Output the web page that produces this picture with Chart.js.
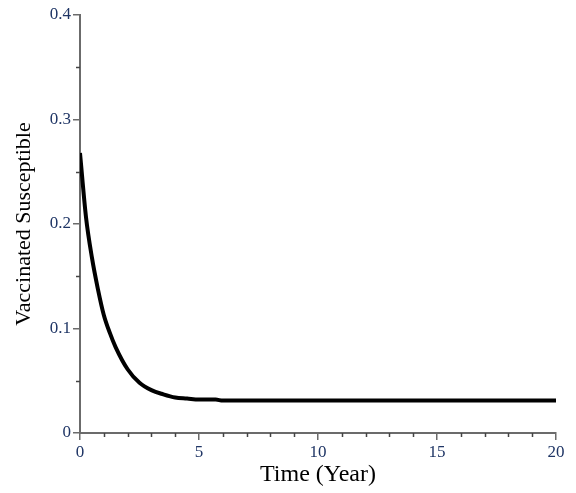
<!DOCTYPE html>
<html>
<head>
<meta charset="utf-8">
<script src="https://cdn.jsdelivr.net/npm/chart.js@4.4.1/dist/chart.umd.min.js"></script>
<style>
    html, body { margin: 0; padding: 0; background: #fff; }
    #chart { display: block; }
</style>
</head>
<body>
<canvas id="chart" width="576" height="493"></canvas>
<script>
// 読み取った値（時間 [年] と ワクチン接種済み感受性者）
const years = [0, 0.25, 0.5, 0.75, 1, 1.25, 1.5, 2, 2.5, 3, 3.5, 4, 4.5, 5, 5.7, 6, 8, 10, 12, 14, 16, 18, 20];
const vaccinated = [0.268, 0.207, 0.168, 0.138, 0.113, 0.096, 0.082, 0.061, 0.048, 0.041, 0.037, 0.034, 0.033, 0.032, 0.032, 0.031, 0.031, 0.031, 0.031, 0.031, 0.031, 0.031, 0.031];

const xTicks = [0, 5, 10, 15, 20];
const yTicks = [0, 0.1, 0.2, 0.3, 0.4];

const axisColor = '#6b6b6b';
const labelColor = '#1f3565';
const serif = '"Liberation Serif", "DejaVu Serif", serif';

// 補助目盛り（x: 1刻み, y: 0.05刻み）
const minorTicks = {
    id: 'minorTicks',
    afterDraw(chart) {
        const ctx = chart.ctx;
        const x = chart.scales.x;
        const y = chart.scales.y;
        ctx.save();
        ctx.strokeStyle = '#444';
        ctx.lineWidth = 1.5;
        ctx.beginPath();
        for (let v = 0; v <= 20; v++) {
            if (v % 5 === 0) continue;
            const px = Math.round(x.getPixelForValue(v)) + 0.5;
            ctx.moveTo(px, x.top);
            ctx.lineTo(px, x.top + 4);
        }
        for (let i = 0; i <= 8; i++) {
            if (i % 2 === 0) continue;
            const py = Math.round(y.getPixelForValue(i * 0.05)) + 0.5;
            ctx.moveTo(y.right, py);
            ctx.lineTo(y.right - 4, py);
        }
        ctx.stroke();
        ctx.restore();
    }
};

new Chart(document.getElementById('chart').getContext('2d'), {
    type: 'scatter',
    data: {
        datasets: [{
            data: years.map((t, i) => ({ x: t, y: vaccinated[i] })),
            showLine: true,
            borderColor: '#000',
            borderWidth: 4,
            pointRadius: 0,
            cubicInterpolationMode: 'monotone',
            fill: false
        }]
    },
    options: {
        responsive: false,
        animation: false,
        layout: { padding: { top: 15, right: 20, left: 0, bottom: 0 } },
        plugins: {
            legend: { display: false },
            tooltip: { enabled: false }
        },
        scales: {
            x: {
                type: 'linear',
                min: 0,
                max: 20,
                afterBuildTicks: (s) => { s.ticks = xTicks.map(v => ({ value: v })); },
                afterFit: (s) => { s.height = 60; },
                grid: { drawOnChartArea: false, color: axisColor, lineWidth: 1.5, tickLength: 7 },
                border: { color: axisColor, width: 2 },
                ticks: {
                    color: labelColor,
                    font: { family: serif, size: 17 },
                    padding: 2,
                    maxRotation: 0
                },
                title: {
                    display: true,
                    text: 'Time (Year)',
                    color: '#000',
                    font: { family: serif, size: 24 },
                    padding: { top: 0, bottom: 4 }
                }
            },
            y: {
                type: 'linear',
                min: 0,
                max: 0.4,
                afterBuildTicks: (s) => { s.ticks = yTicks.map(v => ({ value: v })); },
                afterFit: (s) => { s.width = 80; },
                grid: { drawOnChartArea: false, color: axisColor, lineWidth: 1.5, tickLength: 7 },
                border: { color: axisColor, width: 2 },
                ticks: {
                    color: labelColor,
                    font: { family: serif, size: 17 },
                    padding: 2,
                    callback: (v) => v === 0 ? '0' : v.toFixed(1)
                },
                title: {
                    display: true,
                    text: 'Vaccinated Susceptible',
                    color: '#000',
                    font: { family: serif, size: 22 },
                    padding: { top: 11, bottom: 4 }
                }
            }
        }
    },
    plugins: [minorTicks]
});
</script>
</body>
</html>
